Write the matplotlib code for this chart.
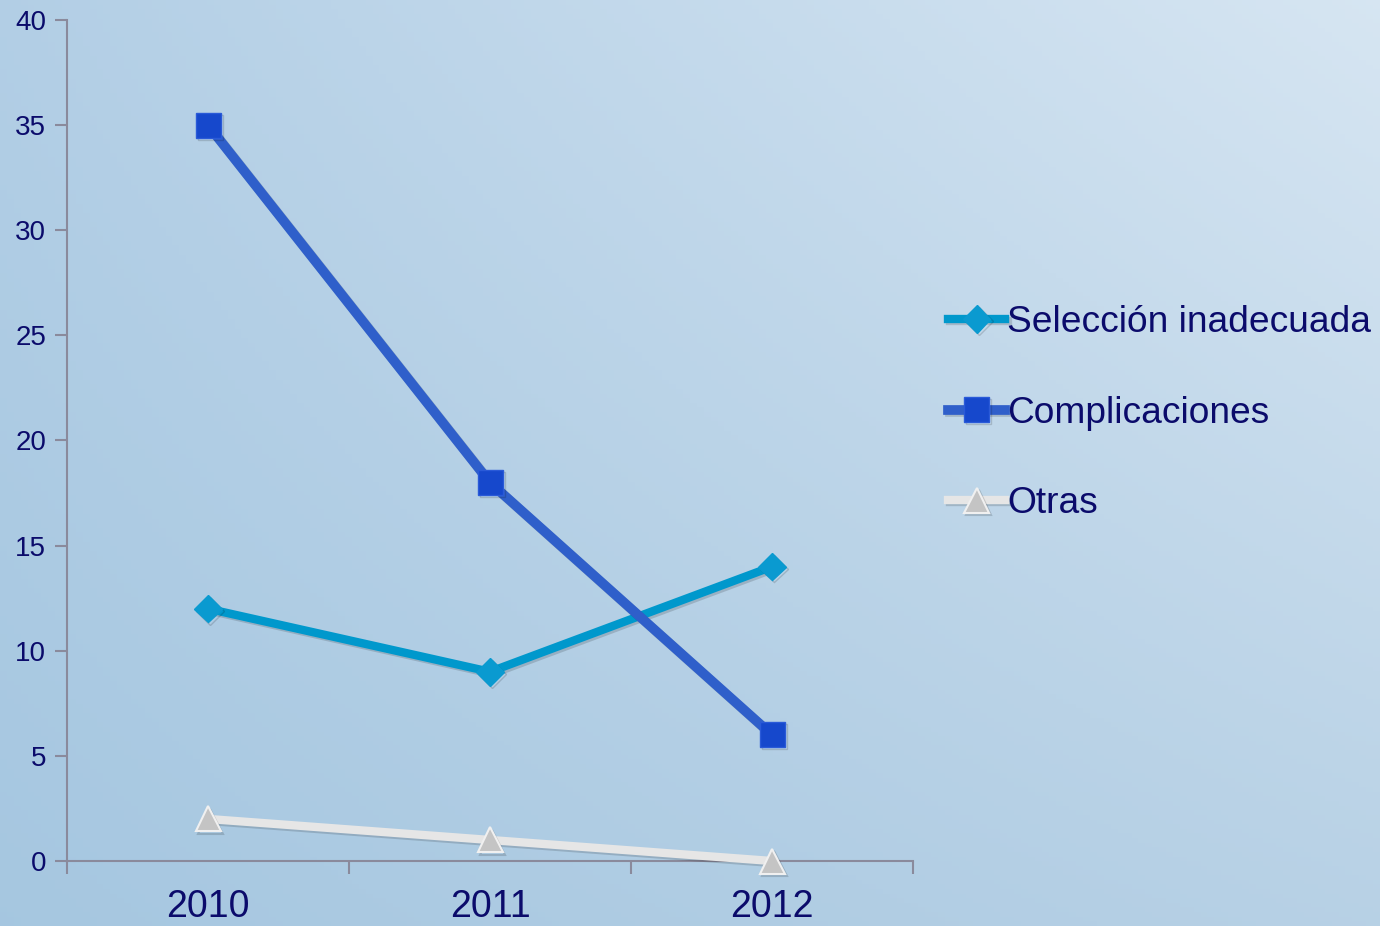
import matplotlib.pyplot as plt
import matplotlib.patheffects as pe
import numpy as np

years = ["2010", "2011", "2012"]
seleccion = [12, 9, 14]
complicaciones = [35, 18, 6]
otras = [2, 1, 0]
y_ticks = [0, 5, 10, 15, 20, 25, 30, 35, 40]

navy = "#0b0b6b"
plt.rcParams["font.family"] = ["Liberation Sans", "DejaVu Sans"]

fig = plt.figure(figsize=(13.8, 9.26), dpi=100)

# background gradient
bg = fig.add_axes([0, 0, 1, 1], zorder=-10)
gx, gy = np.meshgrid(np.linspace(0, 1, 200), np.linspace(0, 1, 200))
top_left = np.array([0.70, 0.81, 0.90])
top_right = np.array([0.84, 0.90, 0.95])
bot_left = np.array([0.65, 0.78, 0.88])
bot_right = np.array([0.72, 0.82, 0.90])
img = (top_left[None, None] * ((1 - gx) * (1 - gy))[..., None]
       + top_right[None, None] * (gx * (1 - gy))[..., None]
       + bot_left[None, None] * ((1 - gx) * gy)[..., None]
       + bot_right[None, None] * (gx * gy)[..., None])
bg.imshow(img, aspect="auto", extent=[0, 1, 0, 1])
bg.axis("off")

ax = fig.add_axes([67 / 1380, 65 / 926, 846 / 1380, 841 / 926])
ax.patch.set_alpha(0)

x = np.arange(len(years))
shadow = [pe.SimpleLineShadow(offset=(1.5, -1.5), alpha=0.15), pe.Normal()]

ax.plot(x, seleccion, color="#0098cc", lw=6, marker="D", ms=14,
        mfc="#0a9ad0", mec="#0a9ad0", label="Selección inadecuada",
        path_effects=shadow, zorder=3, clip_on=False)
ax.plot(x, complicaciones, color="#2f5fca", lw=7, marker="s", ms=18,
        mfc="#1648cc", mec="#2a5ad8", label="Complicaciones",
        path_effects=shadow, zorder=4, clip_on=False)
ax.plot(x, otras, color="#e6e6e6", lw=6, marker="^", ms=18,
        mfc="#c4c4c4", mec="#f0f0f0", mew=1.5, label="Otras",
        path_effects=shadow, zorder=3, clip_on=False)

ax.set_xlim(-0.5, 2.5)
ax.set_ylim(0, 40)
ax.set_yticks(y_ticks)
ax.set_xticks([-0.5, 0.5, 1.5, 2.5])
ax.set_xticklabels([])
ax.set_xticks(x, minor=True)
ax.set_xticklabels(years, minor=True)
ax.tick_params(axis="x", which="major", length=9, width=1.5, color="#8a8a9c")
ax.tick_params(axis="x", which="minor", length=0, pad=20,
               labelsize=27, labelcolor=navy)
ax.tick_params(axis="y", length=9, width=1.5, color="#8a8a9c",
               labelsize=20, labelcolor=navy, pad=6)

for side in ["top", "right"]:
    ax.spines[side].set_visible(False)
for side in ["left", "bottom"]:
    ax.spines[side].set_color("#8a8a9c")
    ax.spines[side].set_linewidth(1.5)

leg = fig.legend(loc="upper left", bbox_to_anchor=(948 / 1380, 1 - 305 / 926),
                 frameon=False, fontsize=26.7, handlelength=1.55,
                 handletextpad=0.05, labelspacing=1.5, borderpad=0,
                 borderaxespad=0)
for t in leg.get_texts():
    t.set_color(navy)

fig.savefig("out.png", dpi=100)
